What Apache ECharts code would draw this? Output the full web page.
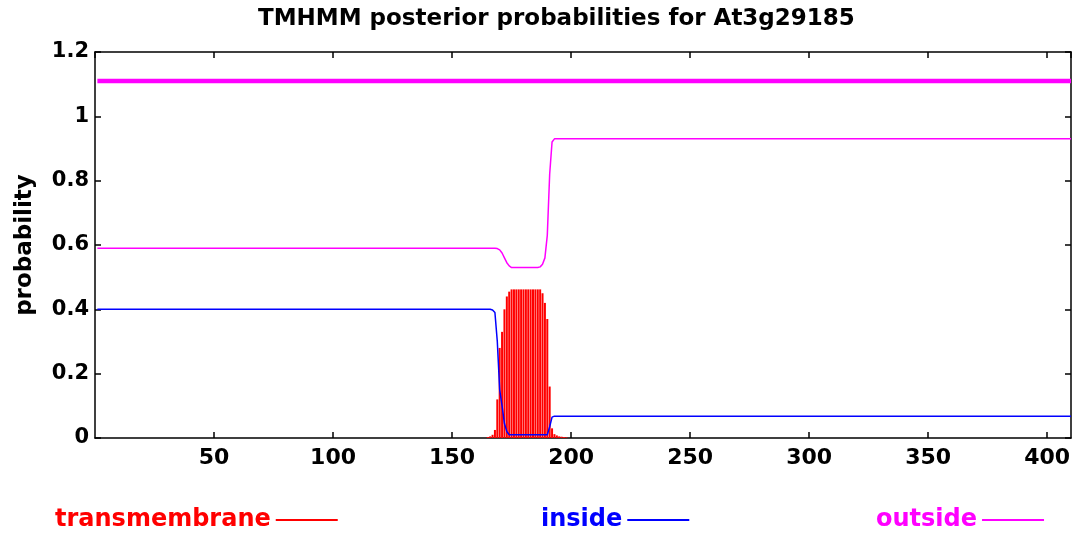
<!DOCTYPE html>
<html>
<head>
<meta charset="utf-8">
<title>TMHMM posterior probabilities for At3g29185</title>
<script src="https://cdn.jsdelivr.net/npm/echarts@6/dist/echarts.min.js"></script>
<style>
  html, body { margin: 0; padding: 0; background: #fff; }
  #main { width: 1075px; height: 536px; }
</style>
</head>
<body>
<div id="main"></div>
<script>
// residue positions and posterior probabilities
const tmResidue = [165, 166, 167, 168, 169, 170, 171, 172, 173, 174, 175, 176, 177, 178, 179, 180,
  181, 182, 183, 184, 185, 186, 187, 188, 189, 190, 191, 192, 193, 194, 195, 196, 197, 198];
const tmProb = [0.003, 0.005, 0.01, 0.025, 0.12, 0.28, 0.33, 0.40, 0.44, 0.455, 0.462, 0.462, 0.462, 0.462, 0.462, 0.462,
  0.462, 0.462, 0.462, 0.462, 0.462, 0.462, 0.462, 0.45, 0.42, 0.37, 0.16, 0.03, 0.012, 0.008, 0.005, 0.004, 0.003, 0.002];

const insideResidue = [1, 166, 167, 168, 169, 170, 171, 172, 173, 174, 190, 191, 192, 193, 410];
const insideProb = [0.40, 0.40, 0.398, 0.39, 0.30, 0.15, 0.10, 0.045, 0.02, 0.01, 0.01, 0.035, 0.065, 0.068, 0.068];

const outsideResidue = [1, 168, 169, 170, 171, 172, 173, 174, 175, 186, 187, 188, 189, 190, 191, 192, 193, 410];
const outsideProb = [0.59, 0.59, 0.589, 0.585, 0.575, 0.56, 0.545, 0.535, 0.53, 0.53, 0.532, 0.54, 0.56, 0.63, 0.82, 0.92, 0.93, 0.93];

// predicted topology line (all outside)
const topologyResidue = [1, 410];
const topologyLevel = [1.11, 1.11];

function zip(xs, ys) { return xs.map((x, i) => [x, ys[i]]); }

let myChart = echarts.init(document.getElementById('main'));
const font = 'DejaVu Sans';

function legendFor(name, color, left) {
  return {
    data: [{ name: name, textStyle: { color: color } }],
    left: left, top: 508, padding: 0,
    align: 'right', icon: 'rect', itemWidth: 62, itemHeight: 2,
    selectedMode: false,
    textStyle: { fontFamily: font, fontWeight: 'bold', fontSize: 24, color: color }
  };
}

// frame axis pieces: line stays on its own edge, ticks point into the plot
const frameLine = { show: true, onZero: false, lineStyle: { color: '#000', width: 1.5 } };
const frameTick = { show: true, inside: true, length: 6, lineStyle: { color: '#000', width: 1.5 } };

let option = {
  animation: false,
  backgroundColor: '#fff',
  title: {
    text: 'TMHMM posterior probabilities for At3g29185',
    left: 258, top: 8, padding: 0,
    textStyle: { fontFamily: font, fontWeight: 'bold', fontSize: 23, color: '#000' }
  },
  legend: [
    legendFor('transmembrane', '#ff0000', 55),
    legendFor('inside', '#0000ff', 541),
    legendFor('outside', '#ff00ff', 876)
  ],
  grid: { left: 95, right: 4, top: 52, bottom: 98 },
  xAxis: [
    {
      type: 'value', min: 0, max: 410, interval: 50, position: 'bottom',
      axisLine: frameLine, axisTick: frameTick,
      axisLabel: {
        showMinLabel: false, showMaxLabel: false, margin: 9,
        fontFamily: font, fontWeight: 'bold', fontSize: 22, color: '#000'
      },
      splitLine: { show: false }
    },
    {
      type: 'value', min: 0, max: 410, interval: 50, position: 'top',
      axisLine: frameLine, axisTick: frameTick,
      axisLabel: { show: false },
      splitLine: { show: false }
    }
  ],
  yAxis: [
    {
      type: 'value', min: 0, max: 1.2, interval: 0.2, position: 'left',
      name: 'probability', nameLocation: 'middle', nameGap: 58,
      nameTextStyle: { fontFamily: font, fontWeight: 'bold', fontSize: 23, color: '#000' },
      axisLine: frameLine, axisTick: frameTick,
      axisLabel: { margin: 6, fontFamily: font, fontWeight: 'bold', fontSize: 21, color: '#000' },
      splitLine: { show: false }
    },
    {
      type: 'value', min: 0, max: 1.2, interval: 0.2, position: 'right',
      axisLine: frameLine, axisTick: frameTick,
      axisLabel: { show: false },
      splitLine: { show: false }
    }
  ],
  series: [
    {
      name: 'transmembrane', type: 'bar', barWidth: 2,
      itemStyle: { color: '#ff0000' },
      data: zip(tmResidue, tmProb)
    },
    {
      name: 'inside', type: 'line', showSymbol: false, symbol: 'none',
      itemStyle: { color: '#0000ff' },
      lineStyle: { color: '#0000ff', width: 1.5 },
      data: zip(insideResidue, insideProb)
    },
    {
      name: 'outside', type: 'line', showSymbol: false, symbol: 'none',
      itemStyle: { color: '#ff00ff' },
      lineStyle: { color: '#ff00ff', width: 1.5 },
      data: zip(outsideResidue, outsideProb)
    },
    {
      name: 'topology', type: 'line', showSymbol: false, symbol: 'none',
      itemStyle: { color: '#ff00ff' },
      lineStyle: { color: '#ff00ff', width: 4.5 },
      data: zip(topologyResidue, topologyLevel)
    }
  ]
};
myChart.setOption(option);
</script>
</body>
</html>
